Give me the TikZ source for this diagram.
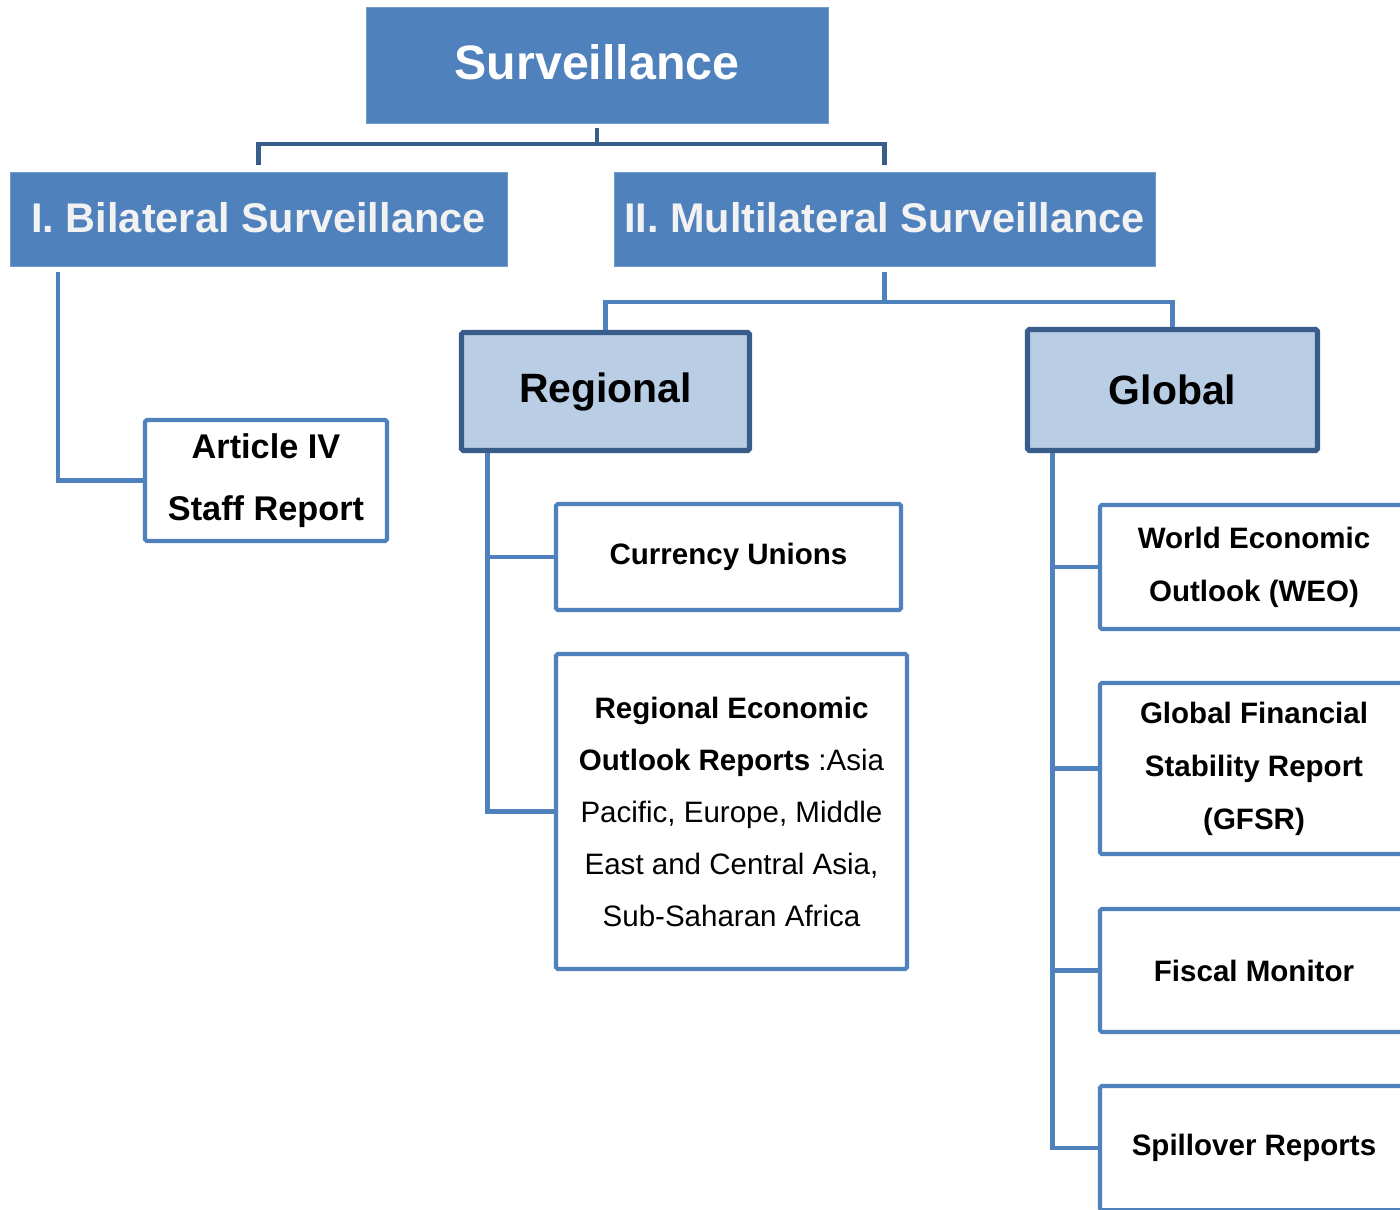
\documentclass[tikz,border=0pt]{standalone}
\usepackage{fontspec}
\setmainfont{Liberation Sans}
\usepackage{tikz}
\usetikzlibrary{positioning, calc}
\definecolor{survblue}{HTML}{4F81BD}
\definecolor{survdark}{HTML}{385D8A}
\definecolor{survlight}{HTML}{B9CDE5}
\definecolor{survwhite}{HTML}{F2F2F2}

\begin{document}
\begin{tikzpicture}[
    topbox/.style={fill=survblue, draw=survblue!80!white, thin, inner sep=0pt, font=\bfseries\fontsize{#1}{#1}\selectfont},
    group/.style={fill=survlight, draw=survdark, line width=2.9pt, rounded corners=1pt, inner sep=0pt, font=\bfseries\fontsize{23.3}{28}\selectfont},
    leaf/.style={fill=white, draw=survblue, line width=2.3pt, rounded corners=1pt, inner sep=0pt, align=center, font=\fontsize{16.8}{30.1}\selectfont\bfseries},
    trunk/.style={draw=survdark, line width=2.3pt},
    link/.style={draw=survblue, line width=2.4pt},
]
\useasboundingbox (0,0) rectangle (28,-24.18);
\clip (0,0) rectangle (28,-24.18);

% Top level
\node[topbox=27.5, text=white, minimum width=9.24cm, minimum height=2.32cm, text depth=0.12cm] (surv) at (11.94,-1.30) {Surveillance};

% Bilateral and multilateral
\node[topbox=23.6, text=survwhite, minimum width=9.94cm, minimum height=1.88cm, text depth=0.08cm] (bilat) at (5.17,-4.38) {I. Bilateral Surveillance};
\node[topbox=23.6, text=survwhite, minimum width=10.82cm, minimum height=1.88cm, text depth=0.08cm] (multi) at (17.69,-4.38) {II. Multilateral Surveillance};

\draw[trunk] ([yshift=-0.1cm]surv.south) -- ++(0,-0.32) -| ([yshift=0.14cm]bilat.north);
\draw[trunk] ([yshift=-0.1cm]surv.south) -- ++(0,-0.32) -| ([yshift=0.14cm]multi.north);

% Bilateral: Article IV
\node[leaf, font=\bfseries\fontsize{19.5}{35.3}\selectfont, minimum width=4.84cm, minimum height=2.42cm] (art) at (5.32,-9.61) {Article IV\\Staff Report};
\draw[link] ([xshift=0.96cm,yshift=-0.12cm]bilat.south west) |- (art.west);

% Regional and global
\node[group, minimum width=5.76cm, minimum height=2.36cm] (reg) at (12.11,-7.83) {Regional};
\node[group, minimum width=5.80cm, minimum height=2.42cm] (glob) at (23.45,-7.80) {Global};

\draw[link] ([yshift=-0.12cm]multi.south) -- ++(0,-0.6) -| (reg.north);
\draw[link] ([yshift=-0.12cm]multi.south) -- ++(0,-0.6) -| (glob.north);

% Regional reports
\node[leaf, minimum width=6.90cm, minimum height=2.12cm] (curr) at (14.57,-11.14) {Currency Unions};
\node[leaf, font=\fontsize{16.8}{29.6}\selectfont, minimum width=7.02cm, minimum height=6.30cm] (reo) at (14.63,-16.23)
  {\textbf{Regional Economic}\\\textbf{Outlook Reports} :Asia\\Pacific, Europe, Middle\\East and Central Asia,\\Sub-Saharan Africa};

\coordinate (regtrunk) at ([xshift=0.57cm]reg.south west);
\draw[link] (regtrunk) |- (reo.west);
\draw[link] (regtrunk |- curr.west) -- (curr.west);

% Global reports
\node[leaf, minimum width=6.16cm, minimum height=2.48cm] (weo) at (25.08,-11.34) {World Economic\\Outlook (WEO)};
\node[leaf, minimum width=6.16cm, minimum height=3.42cm] (gfsr) at (25.08,-15.37) {Global Financial\\Stability Report\\(GFSR)};
\node[leaf, minimum width=6.16cm, minimum height=2.46cm] (fisc) at (25.08,-19.41) {Fiscal Monitor};
\node[leaf, minimum width=6.16cm, minimum height=2.48cm] (spill) at (25.08,-22.96) {Spillover Reports};

\coordinate (globtrunk) at ([xshift=0.55cm]glob.south west);
\draw[link] (globtrunk) |- (spill.west);
\foreach \b in {weo, gfsr, fisc} {
    \draw[link] (globtrunk |- \b.west) -- (\b.west);
}

\end{tikzpicture}
\end{document}
